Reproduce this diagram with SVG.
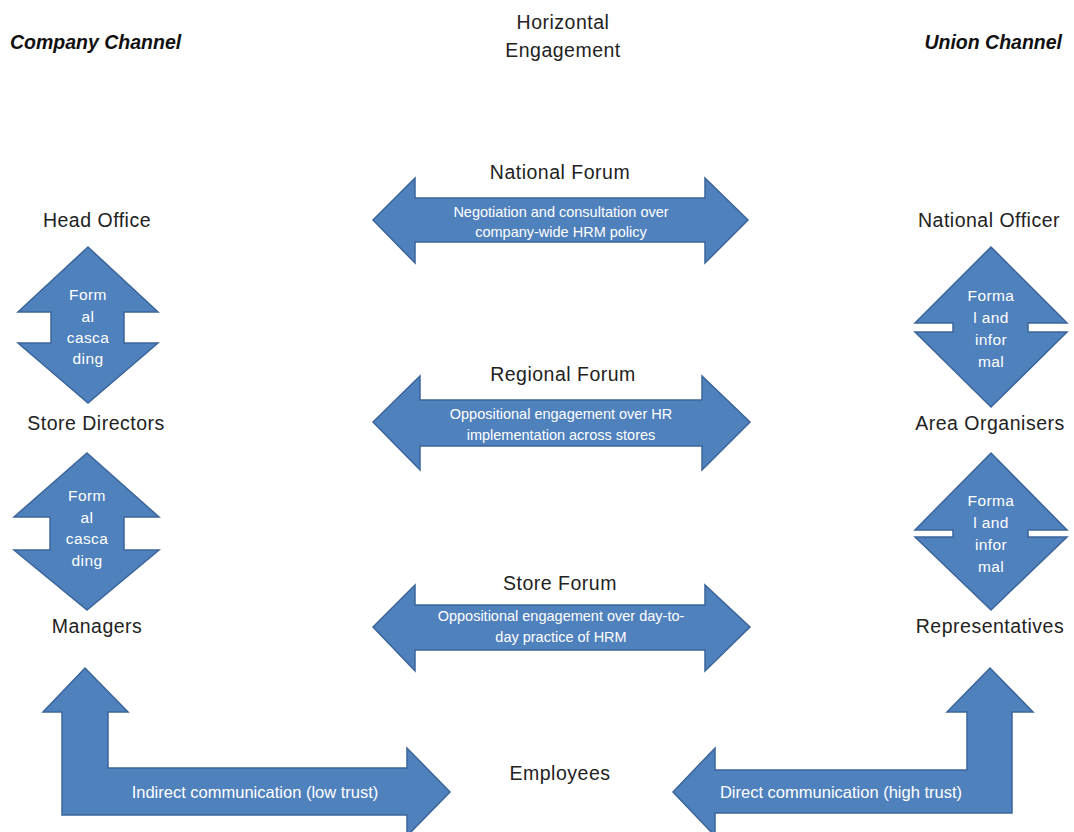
<svg xmlns="http://www.w3.org/2000/svg" width="1074" height="832" viewBox="0 0 1074 832">
<style>
.arr{fill:#4F81BD;stroke:#3B659A;stroke-width:1.5;stroke-linejoin:miter}
.lbl{font-family:"Liberation Sans",Arial,sans-serif;font-size:19.5px;letter-spacing:0.5px;fill:#222;text-anchor:middle}
.hdr{font-family:"Liberation Sans",Arial,sans-serif;font-size:19.5px;font-weight:bold;font-style:italic;fill:#111}
.in{font-family:"Liberation Sans",Arial,sans-serif;font-size:14.5px;fill:#fff;text-anchor:middle}
.inv{font-family:"Liberation Sans",Arial,sans-serif;font-size:15.5px;letter-spacing:0.4px;fill:#fff;text-anchor:middle}
.inb{font-family:"Liberation Sans",Arial,sans-serif;font-size:16.5px;fill:#fff;text-anchor:middle}
</style>
<rect width="1074" height="832" fill="#fff"/>

<g id="headers">
<text class="hdr" x="10" y="49">Company Channel</text>
<text class="lbl" x="563" y="29">Horizontal</text>
<text class="lbl" x="563" y="57">Engagement</text>
<text class="hdr" x="1062" y="49" text-anchor="end">Union Channel</text>
</g>

<g id="company-nodes">
<text id="head-office" class="lbl" x="97" y="227">Head Office</text>
<text id="store-directors" class="lbl" x="96" y="430">Store Directors</text>
<text id="managers" class="lbl" x="97" y="633">Managers</text>
</g>
<g id="union-nodes">
<text id="national-officer" class="lbl" x="989" y="227">National Officer</text>
<text id="area-organisers" class="lbl" x="990" y="430">Area Organisers</text>
<text id="representatives" class="lbl" x="990" y="633">Representatives</text>
</g>
<g id="forums">
<text id="national-forum" class="lbl" x="560" y="179">National Forum</text>
<text id="regional-forum" class="lbl" x="563" y="381">Regional Forum</text>
<text id="store-forum" class="lbl" x="560" y="590">Store Forum</text>
<text id="employees" class="lbl" x="560" y="780">Employees</text>
</g>

<g id="connectors">
<g id="company-arrow-1">
<polygon class="arr" points="88,247 158,312 124,312 124,343 158,343 88,403 18,343 51,343 51,312 18,312"/>
<text class="inv" x="88" y="300">Form</text><text class="inv" x="88" y="322">al</text><text class="inv" x="88" y="343">casca</text><text class="inv" x="88" y="364">ding</text>
</g>
<g id="company-arrow-2">
<polygon class="arr" points="87,453 159,517 124,517 124,550 159,550 87,610 14,550 50,550 50,517 14,517"/>
<text class="inv" x="87" y="501">Form</text><text class="inv" x="87" y="523">al</text><text class="inv" x="87" y="544">casca</text><text class="inv" x="87" y="566">ding</text>
</g>
<g id="union-arrow-1">
<polygon class="arr" points="991,247 1067,323 1028,323 1028,332 1067,332 991,407 915,332 953,332 953,323 915,323"/>
<text class="inv" x="991" y="301">Forma</text><text class="inv" x="991" y="323">l and</text><text class="inv" x="991" y="345">infor</text><text class="inv" x="991" y="367">mal</text>
</g>
<g id="union-arrow-2">
<polygon class="arr" points="991,453 1067,530 1028,530 1028,537 1067,537 991,610 915,537 953,537 953,530 915,530"/>
<text class="inv" x="991" y="506">Forma</text><text class="inv" x="991" y="528">l and</text><text class="inv" x="991" y="550">infor</text><text class="inv" x="991" y="572">mal</text>
</g>
<g id="national-arrow">
<polygon class="arr" points="373,220 415,178 415,198 705,198 705,178 748,220 705,263 705,242 415,242 415,263"/>
<text class="in" x="561" y="217">Negotiation and consultation over</text><text class="in" x="561" y="237">company-wide HRM policy</text>
</g>
<g id="regional-arrow">
<polygon class="arr" points="373,422 420,376 420,400 702,400 702,376 750,422 702,470 702,446 420,446 420,470"/>
<text class="in" x="561" y="419">Oppositional engagement over HR</text><text class="in" x="561" y="440">implementation across stores</text>
</g>
<g id="store-arrow">
<polygon class="arr" points="373,627 415,585 415,605 705,605 705,585 750,627 705,671 705,650 415,650 415,671"/>
<text class="in" x="561" y="621">Oppositional engagement over day-to-</text><text class="in" x="561" y="642">day practice of HRM</text>
</g>
<g id="indirect-arrow">
<polygon class="arr" points="85,668 128,712 108,712 108,768 407,768 407,748 450,792 407,836 407,815 62,815 62,712 43,712"/>
<text class="inb" x="255" y="798">Indirect communication (low trust)</text>
</g>
<g id="direct-arrow">
<polygon class="arr" points="990,668 1033,712 1012,712 1012,813 715,813 715,836 673,792 715,748 715,770 967,770 967,712 947,712"/>
<text class="inb" x="841" y="798">Direct communication (high trust)</text>
</g>
</g>
</svg>
